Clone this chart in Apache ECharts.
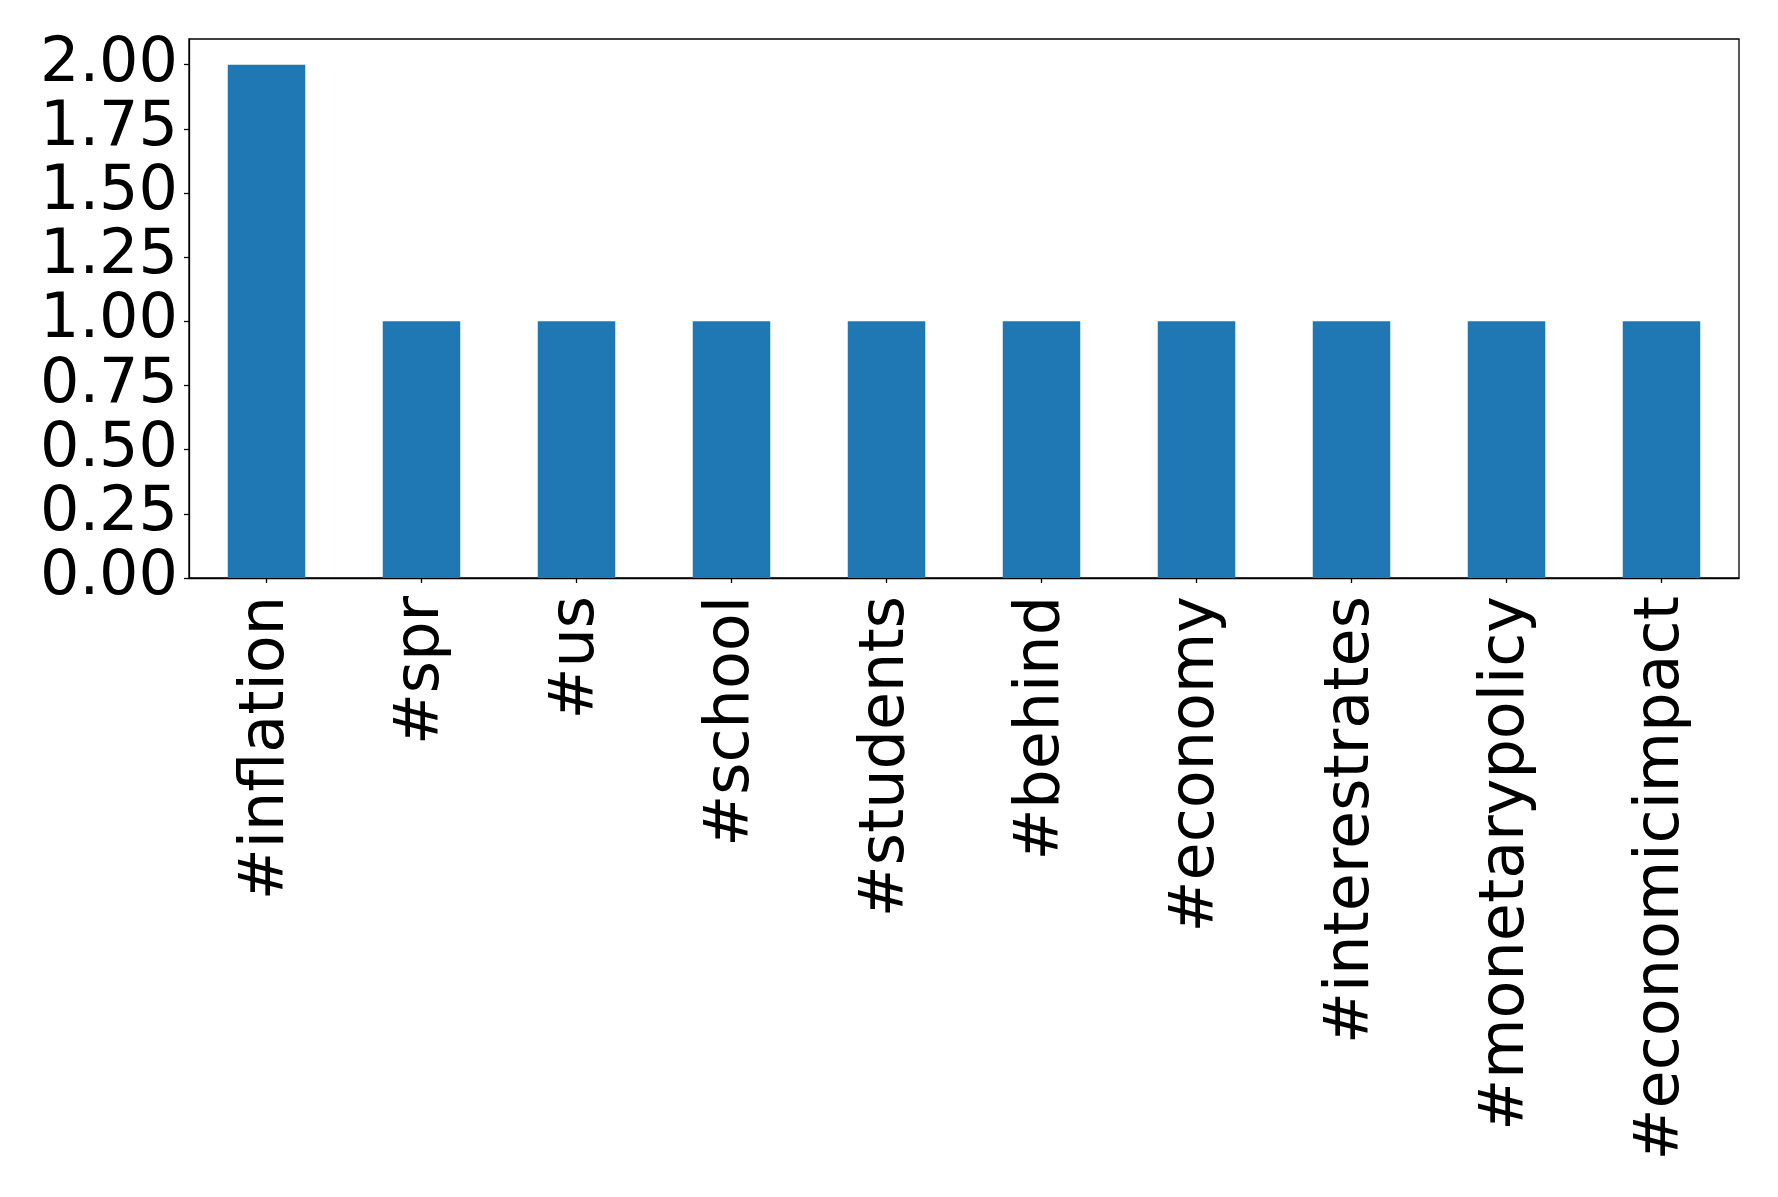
<!DOCTYPE html>
<html>
<head>
<meta charset="utf-8">
<script src="https://cdn.jsdelivr.net/npm/echarts@6/dist/echarts.min.js"></script>
<style>
html,body{margin:0;padding:0;background:#fff;}
#chart{width:1778px;height:1197px;}
</style>
</head>
<body>
<div id="chart"></div>
<script>
const categories = ['#inflation','#spr','#us','#school','#students','#behind','#economy','#interestrates','#monetarypolicy','#economicimpact'];
const counts = [2,1,1,1,1,1,1,1,1,1];
const yTicks = [0,0.25,0.5,0.75,1.0,1.25,1.5,1.75,2.0];

const chart = echarts.init(document.getElementById('chart'), null, {renderer:'canvas'});
const font = 'DejaVu Sans';
chart.setOption({
  animation:false,
  backgroundColor:'#fff',
  grid:{left:189,top:39,width:1550,height:539,show:true,borderColor:'#000',borderWidth:1.3,containLabel:false},
  xAxis:{
    type:'category',
    data:categories,
    boundaryGap:true,
    axisLine:{show:true,lineStyle:{color:'#000',width:1.3}},
    axisTick:{show:true,alignWithLabel:true,length:5,lineStyle:{color:'#000',width:1.3}},
    axisLabel:{rotate:90,interval:0,margin:18,color:'#000',fontFamily:font,fontSize:62,hideOverlap:false}
  },
  yAxis:{
    type:'value',
    min:0,max:2.1,
    splitLine:{show:false},
    axisLine:{show:true,lineStyle:{color:'#000',width:1.3}},
    axisTick:{show:true,length:5,customValues:yTicks,lineStyle:{color:'#000',width:1.3}},
    axisLabel:{customValues:yTicks,margin:11,color:'#000',fontFamily:font,fontSize:62,
      showMinLabel:true,showMaxLabel:true,hideOverlap:false,lineHeight:50,padding:[10,0,0,0],
      formatter:v=>Number(v).toFixed(2)}
  },
  series:[{type:'bar',data:counts,barWidth:'50%',itemStyle:{color:'#1f77b4'}}]
});
</script>
</body>
</html>
